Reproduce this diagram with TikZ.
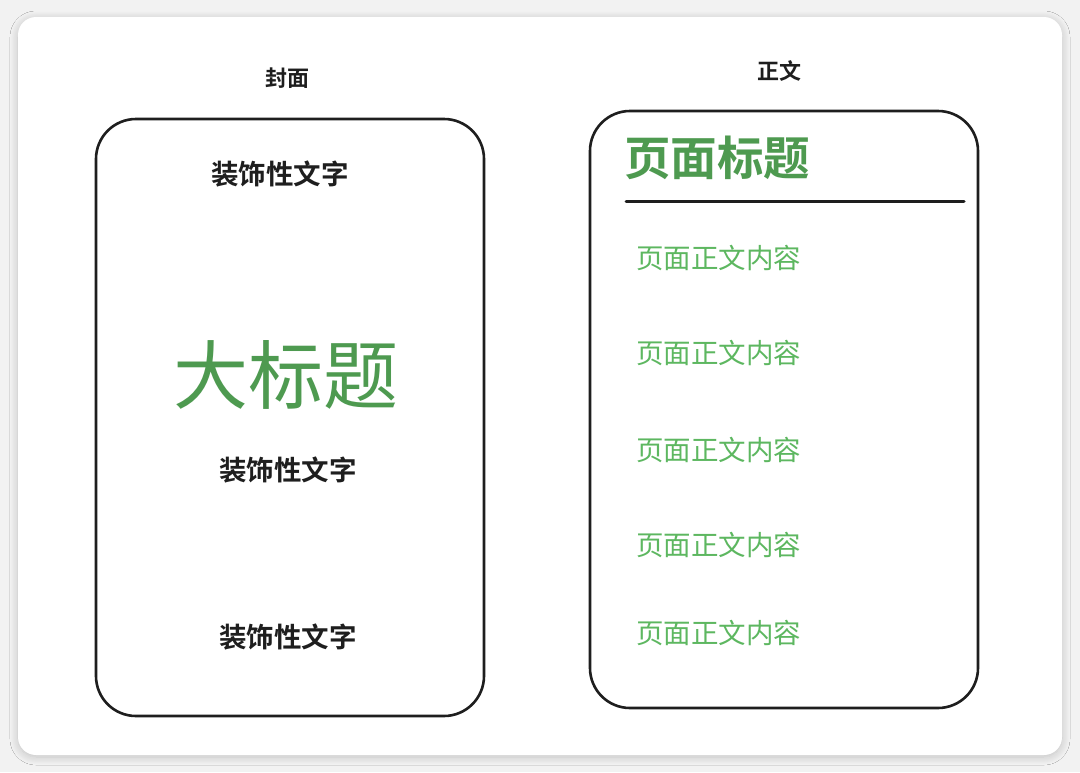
\documentclass[tikz,border=0pt]{standalone}
\usepackage{fontspec}
\newfontfamily\cjk{Noto Sans CJK SC}
\newfontfamily\cjkb{Noto Sans CJK SC Bold}
\usetikzlibrary{shadows.blur}
\definecolor{bggray}{HTML}{F2F2F2}
\definecolor{ink}{HTML}{1E1E1E}
\definecolor{gtitle}{HTML}{4E9A50}
\definecolor{gbody}{HTML}{5DB760}
\tikzset{
  frame/.style={draw=ink, line width=2.6pt, rounded corners=40pt},
  label/.style={font=\cjkb\fontsize{22}{24}\selectfont, text=ink, inner sep=0pt},
  deco/.style={font=\cjkb\fontsize{27.5}{30}\selectfont, text=ink, inner sep=0pt},
  body/.style={font=\cjk\fontsize{27.5}{30}\selectfont, text=gbody, inner sep=0pt, anchor=west},
}
\begin{document}
\begin{tikzpicture}[x=1pt,y=-1pt]
\useasboundingbox (0,0) rectangle (1080,772);
\fill[bggray] (0,0) rectangle (1080,772);
\fill[white, rounded corners=18pt, blur shadow={shadow blur steps=12, shadow blur radius=8pt, shadow xshift=0pt, shadow yshift=-2pt, shadow opacity=20}] (18,17) rectangle (1062,755);
% left box
\draw[frame] (96,119) rectangle (484,716);
\node[label] (covert) at (287,78) {封面};
\node[deco] (d1) at (280,174) {装饰性文字};
\node[font=\cjk\fontsize{75}{80}\selectfont, text=gtitle, inner sep=0pt] (big) at (286,375) {大标题};
\node[deco] (d2) at (288,470) {装饰性文字};
\node[deco] (d3) at (288,637) {装饰性文字};
% right box
\draw[frame] (590,111) rectangle (978,708);
\node[label] (bodyt) at (779,71) {正文};
\node[font=\cjkb\fontsize{46.5}{50}\selectfont, text=gtitle, inner sep=0pt, anchor=west] (ptitle) at (624,158) {页面标题};
\coordinate (la) at (626,201);
\coordinate (lb) at (964,201);
\draw[ink, line width=3pt, line cap=round] (la) -- (lb);
\node[body] (b1) at (636,258) {页面正文内容};
\node[body] (b2) at (636,353) {页面正文内容};
\node[body] (b3) at (636,450) {页面正文内容};
\node[body] (b4) at (636,545) {页面正文内容};
\node[body] (b5) at (636,633) {页面正文内容};
\end{tikzpicture}
\end{document}
